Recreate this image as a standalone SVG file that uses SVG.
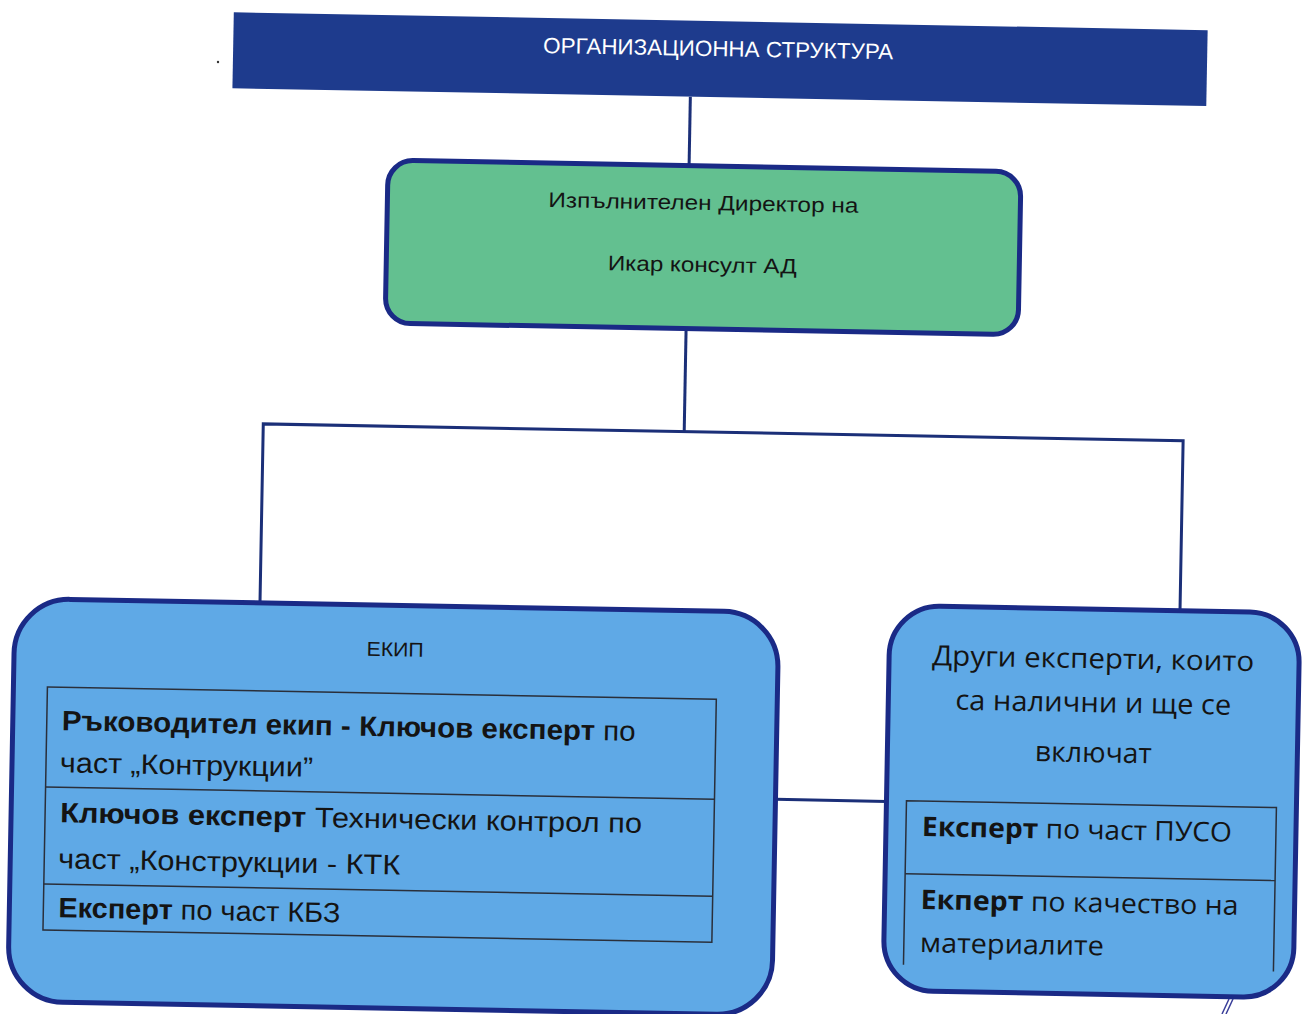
<svg xmlns="http://www.w3.org/2000/svg" width="1305" height="1014" viewBox="0 0 1305 1014">
  <style>
    .conn { stroke: #1b2f78; stroke-width: 3; fill: none; }
    .box { stroke: #1a2a86; stroke-width: 5; }
    .tbl { stroke: #2a2f3a; stroke-width: 1.5; fill: none; }
    .t { font-family: "Liberation Sans", "Noto Sans", Arial, sans-serif; fill: #141414; }
    .o { font-family: "Open Sans", "Noto Sans", "Liberation Sans", sans-serif; fill: #141414; }
    .b { font-weight: bold; }
  </style>
  <rect x="0" y="0" width="1305" height="1014" fill="#ffffff"/>
  <g transform="rotate(1.05)">
    <g id="connectors">
      <line class="conn" x1="692" y1="84" x2="692" y2="153"/>
      <line class="conn" x1="692" y1="316" x2="692" y2="419"/>
      <polyline class="conn" points="271,598 271,419 1191,419 1191,589"/>
      <line class="conn" x1="790" y1="785" x2="901" y2="785"/>
    </g>
    <g id="header">
      <rect x="234" y="8" width="974" height="76" fill="#1e3b8d"/>
      <text x="719" y="43" text-anchor="middle" font-size="22" fill="#ffffff" font-family="'Liberation Sans', 'Noto Sans', sans-serif" textLength="350" lengthAdjust="spacingAndGlyphs">ОРГАНИЗАЦИОННА СТРУКТУРА</text>
    </g>
    <g id="director">
      <rect class="box" x="391" y="153" width="633" height="163" rx="25" fill="#63c090"/>
      <text class="t" x="707" y="197" text-anchor="middle" font-size="21" textLength="310" lengthAdjust="spacingAndGlyphs">Изпълнителен Директор на</text>
      <text class="t" x="707" y="259" text-anchor="middle" font-size="21" textLength="189" lengthAdjust="spacingAndGlyphs">Икар консулт АД</text>
    </g>
    <g id="team">
      <rect class="box" x="26" y="598" width="764" height="403" rx="55" fill="#5fa9e6"/>
      <text class="t" x="407" y="649" text-anchor="middle" font-size="20" textLength="57" lengthAdjust="spacingAndGlyphs">ЕКИП</text>
      <rect class="tbl" x="60" y="686" width="669" height="243"/>
      <line class="tbl" x1="60" y1="786" x2="729" y2="786"/>
      <line class="tbl" x1="60" y1="883" x2="729" y2="883"/>
      <text class="t" x="75" y="729" font-size="28" textLength="574" lengthAdjust="spacingAndGlyphs"><tspan class="b">Ръководител екип - Ключов експерт</tspan> по</text>
      <text class="t" x="74" y="771" font-size="28" textLength="253" lengthAdjust="spacingAndGlyphs">част „Контрукции”</text>
      <text class="t" x="75" y="821" font-size="28" textLength="582" lengthAdjust="spacingAndGlyphs"><tspan class="b">Ключов експерт</tspan>  Технически контрол по</text>
      <text class="t" x="74" y="867" font-size="28" textLength="342" lengthAdjust="spacingAndGlyphs">част „Конструкции - КТК</text>
      <text class="t" x="75" y="916" font-size="28" textLength="282" lengthAdjust="spacingAndGlyphs"><tspan class="b">Експерт</tspan> по част КБЗ</text>
    </g>
    <g id="others">
      <rect class="box" x="901" y="589" width="410" height="385" rx="50" fill="#5fa9e6"/>
      <text class="o" x="1105" y="648" text-anchor="middle" font-size="28" textLength="322" lengthAdjust="spacingAndGlyphs">Други експерти, които</text>
      <text class="o" x="1106" y="692" text-anchor="middle" font-size="28" textLength="276" lengthAdjust="spacingAndGlyphs">са налични и ще се</text>
      <text class="o" x="1107" y="742" text-anchor="middle" font-size="28" textLength="117" lengthAdjust="spacingAndGlyphs">включат</text>
      <polyline class="tbl" points="921,948 921,784 1291,784 1291,948"/>
      <line class="tbl" x1="921" y1="857" x2="1291" y2="857"/>
      <text class="o" x="937" y="819" font-size="27" textLength="310" lengthAdjust="spacingAndGlyphs"><tspan class="b">Експерт</tspan> по част ПУСО</text>
      <text class="o" x="937" y="892" font-size="27" textLength="318" lengthAdjust="spacingAndGlyphs"><tspan class="b">Екперт</tspan> по качество на</text>
      <text class="o" x="937" y="935" font-size="27" textLength="184" lengthAdjust="spacingAndGlyphs">материалите</text>
    </g>
  </g>
  <circle cx="218" cy="62" r="1.2" fill="#333"/>
  <path d="M1229,999 L1222,1014 M1233,999 L1226,1014" stroke="#3a3f9a" stroke-width="1.5" fill="none"/>
</svg>
